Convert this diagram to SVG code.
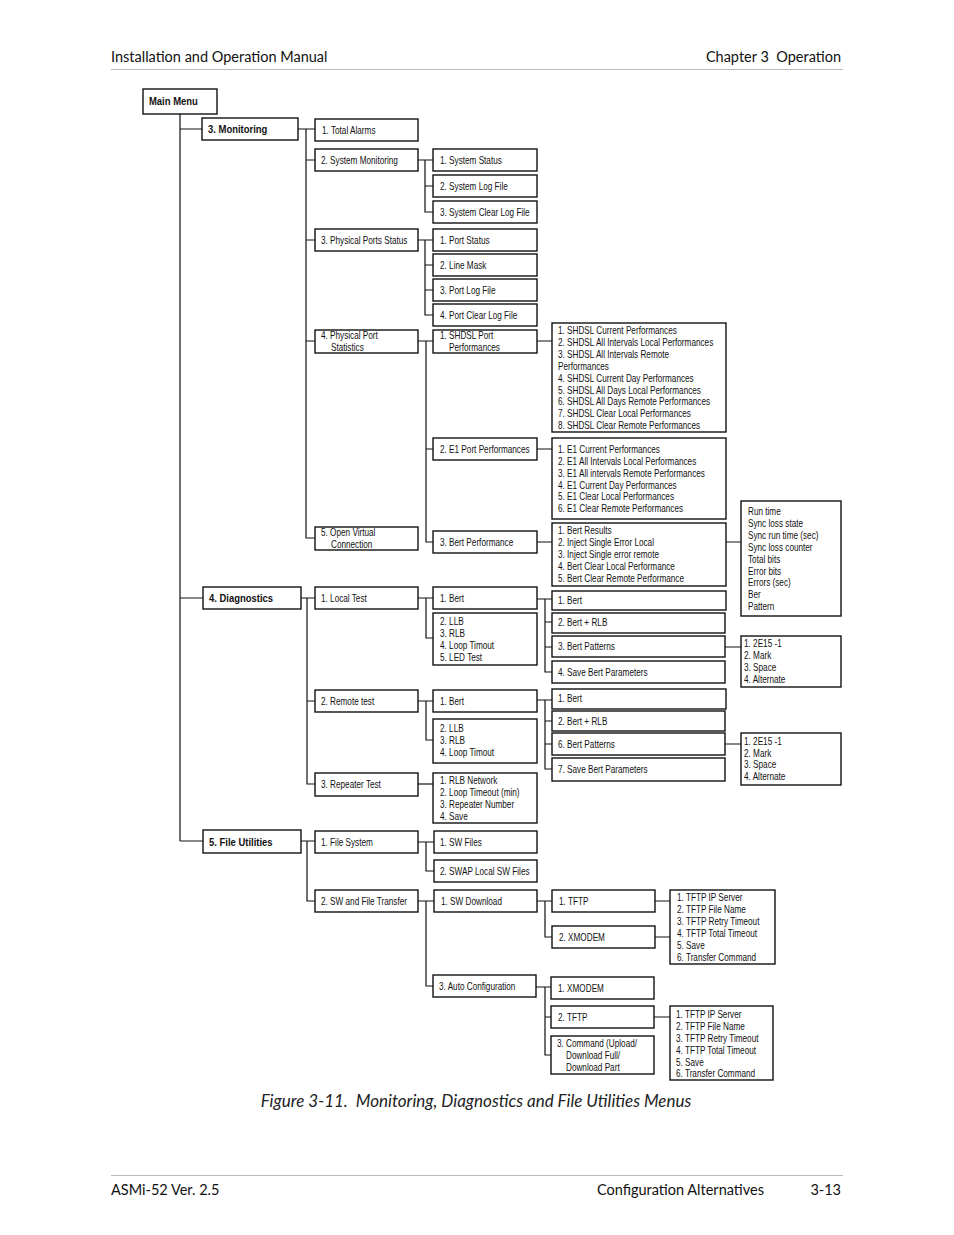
<svg xmlns="http://www.w3.org/2000/svg" width="954" height="1235" viewBox="0 0 954 1235">
<style>
.b{fill:#fff;stroke:#111;stroke-width:1.4}
.c{fill:none;stroke:#111;stroke-width:1.2}
.t{font-family:"Liberation Sans",Arial,sans-serif;font-size:10px;fill:#111;transform:scaleX(0.82);transform-box:fill-box;transform-origin:left center}
.tb{font-family:"Liberation Sans",Arial,sans-serif;font-size:11px;font-weight:bold;fill:#111;transform:scaleX(0.86);transform-box:fill-box;transform-origin:left center}
.h{font-family:Lato,"Noto Sans",sans-serif;font-size:14.5px;fill:#111}
.cap{font-family:Lato,"Noto Sans",sans-serif;font-size:17px;font-style:italic;fill:#222}
.r{stroke:#bbb;stroke-width:1}
</style>
<rect width="954" height="1235" fill="#fff"/>
<g id="header">
<text class="h" x="111" y="62">Installation and Operation Manual</text>
<text class="h" x="841" y="62" text-anchor="end">Chapter 3&#160; Operation</text>
<line class="r" x1="111" y1="69.5" x2="843" y2="69.5"/>
</g>
<g id="footer">
<line class="r" x1="111" y1="1175.5" x2="843" y2="1175.5"/>
<text class="h" x="111" y="1195">ASMi-52 Ver. 2.5</text>
<text class="h" x="764" y="1195" text-anchor="end">Configuration Alternatives</text>
<text class="h" x="841" y="1195" text-anchor="end">3-13</text>
</g>
<text class="cap" x="476" y="1107" text-anchor="middle">Figure 3-11.&#160; Monitoring, Diagnostics and File Utilities Menus</text>

<g id="connectors">
<path class="c" d="M180 114V841M180 129H202M180 598H203M180 841H203"/>
<path class="c" d="M298 129H315M306 129V538H315M306 160H315M306 240H315M306 341H315"/>
<path class="c" d="M418 160H433M425 160V212H433M425 186H433"/>
<path class="c" d="M418 240H433M425 240V315H433M425 265H433M425 290H433"/>
<path class="c" d="M418 341H433M426 341V542H433M426 449H433"/>
<path class="c" d="M537 341H552M537 449H552M537 542H552M726 542H741"/>
<path class="c" d="M301 598H315M307 598V784H315M307 701H315"/>
<path class="c" d="M418 598H433M426 598V638H433"/>
<path class="c" d="M537 599H552M545 599V672H552M545 622H552M545 647H552M725 647H741"/>
<path class="c" d="M418 701H433M426 701V740H433"/>
<path class="c" d="M537 700H552M545 700V769H552M545 721H552M545 744H552M725 744H741"/>
<path class="c" d="M418 784H433"/>
<path class="c" d="M301 841H315M307 841V901H315"/>
<path class="c" d="M418 842H434M426 842V871H434"/>
<path class="c" d="M418 901H434M426 901V986H433"/>
<path class="c" d="M537 901H552M545 901V937H552M655 901H670M655 937H670"/>
<path class="c" d="M536 987H551M545 987V1055H551M545 1017H551M654 1017H670"/>
</g>

<g id="main-menu"><rect class="b" x="143" y="89" width="74" height="25"/><text class="tb" x="149" y="105">Main Menu</text></g>
<g id="monitoring"><rect class="b" x="202" y="118" width="96" height="22"/><text class="tb" x="208" y="133">3. Monitoring</text></g>
<g id="diagnostics"><rect class="b" x="203" y="587" width="98" height="22"/><text class="tb" x="209" y="602">4. Diagnostics</text></g>
<g id="file-utilities"><rect class="b" x="203" y="830" width="98" height="23"/><text class="tb" x="209" y="846">5. File Utilities</text></g>

<g id="total-alarms"><rect class="b" x="315" y="119" width="103" height="22"/><text class="t" x="322" y="134">1. Total Alarms</text></g>
<g id="system-monitoring"><rect class="b" x="315" y="149" width="103" height="22"/><text class="t" x="321" y="164">2. System Monitoring</text></g>
<g id="physical-ports-status"><rect class="b" x="315" y="229" width="103" height="22"/><text class="t" x="321" y="244">3. Physical Ports Status</text></g>
<g id="physical-port-statistics"><rect class="b" x="315" y="330" width="103" height="23"/><text class="t" x="321" y="339">4. Physical Port</text><text class="t" x="331" y="351">Statistics</text></g>
<g id="open-virtual-connection"><rect class="b" x="315" y="527" width="103" height="23"/><text class="t" x="321" y="536">5. Open Virtual</text><text class="t" x="331" y="548">Connection</text></g>

<g id="system-status"><rect class="b" x="433" y="149" width="104" height="22"/><text class="t" x="440" y="164">1. System Status</text></g>
<g id="system-log-file"><rect class="b" x="433" y="175" width="104" height="22"/><text class="t" x="440" y="190">2. System Log File</text></g>
<g id="system-clear-log-file"><rect class="b" x="433" y="201" width="104" height="22"/><text class="t" x="440" y="216">3. System Clear Log File</text></g>

<g id="port-status"><rect class="b" x="433" y="229" width="104" height="22"/><text class="t" x="440" y="244">1. Port Status</text></g>
<g id="line-mask"><rect class="b" x="433" y="254" width="104" height="22"/><text class="t" x="440" y="269">2. Line Mask</text></g>
<g id="port-log-file"><rect class="b" x="433" y="279" width="104" height="22"/><text class="t" x="440" y="294">3. Port Log File</text></g>
<g id="port-clear-log-file"><rect class="b" x="433" y="304" width="104" height="22"/><text class="t" x="440" y="319">4. Port Clear Log File</text></g>

<g id="shdsl-port-performances"><rect class="b" x="433" y="330" width="104" height="23"/><text class="t" x="440" y="339">1. SHDSL Port</text><text class="t" x="449" y="351">Performances</text></g>
<g id="e1-port-performances"><rect class="b" x="433" y="438" width="104" height="22"/><text class="t" x="440" y="453">2. E1 Port Performances</text></g>
<g id="bert-performance"><rect class="b" x="433" y="531" width="104" height="22"/><text class="t" x="440" y="546">3. Bert Performance</text></g>

<g id="shdsl-list"><rect class="b" x="552" y="323" width="174" height="109"/>
<text class="t" x="558" y="334">1. SHDSL Current Performances</text>
<text class="t" x="558" y="346">2. SHDSL All Intervals Local Performances</text>
<text class="t" x="558" y="358">3. SHDSL All Intervals Remote</text>
<text class="t" x="558" y="370">Performances</text>
<text class="t" x="558" y="382">4. SHDSL Current Day Performances</text>
<text class="t" x="558" y="394">5. SHDSL All Days Local Performances</text>
<text class="t" x="558" y="405">6. SHDSL All Days Remote Performances</text>
<text class="t" x="558" y="417">7. SHDSL Clear Local Performances</text>
<text class="t" x="558" y="429">8. SHDSL Clear Remote Performances</text>
</g>
<g id="e1-list"><rect class="b" x="552" y="438" width="174" height="81"/>
<text class="t" x="558" y="453">1. E1 Current Performances</text>
<text class="t" x="558" y="465">2. E1 All Intervals Local Performances</text>
<text class="t" x="558" y="477">3. E1 All intervals Remote Performances</text>
<text class="t" x="558" y="489">4. E1 Current Day Performances</text>
<text class="t" x="558" y="500">5. E1 Clear Local Performances</text>
<text class="t" x="558" y="512">6. E1 Clear Remote Performances</text>
</g>
<g id="bert-list"><rect class="b" x="552" y="523" width="174" height="63"/>
<text class="t" x="558" y="534">1. Bert Results</text>
<text class="t" x="558" y="546">2. Inject Single Error Local</text>
<text class="t" x="558" y="558">3. Inject Single error remote</text>
<text class="t" x="558" y="570">4. Bert Clear Local Performance</text>
<text class="t" x="558" y="582">5. Bert Clear Remote Performance</text>
</g>
<g id="bert-results"><rect class="b" x="741" y="501" width="100" height="115"/>
<text class="t" x="748" y="515">Run time</text>
<text class="t" x="748" y="527">Sync loss state</text>
<text class="t" x="748" y="539">Sync run time (sec)</text>
<text class="t" x="748" y="551">Sync loss counter</text>
<text class="t" x="748" y="563">Total bits</text>
<text class="t" x="748" y="575">Error bits</text>
<text class="t" x="748" y="586">Errors (sec)</text>
<text class="t" x="748" y="598">Ber</text>
<text class="t" x="748" y="610">Pattern</text>
</g>

<g id="local-test"><rect class="b" x="315" y="587" width="103" height="22"/><text class="t" x="321" y="602">1. Local Test</text></g>
<g id="remote-test"><rect class="b" x="315" y="690" width="103" height="22"/><text class="t" x="321" y="705">2. Remote test</text></g>
<g id="repeater-test"><rect class="b" x="315" y="773" width="103" height="23"/><text class="t" x="321" y="788">3. Repeater Test</text></g>

<g id="local-bert"><rect class="b" x="433" y="587" width="104" height="22"/><text class="t" x="440" y="602">1. Bert</text></g>
<g id="local-loops"><rect class="b" x="433" y="613" width="104" height="52"/>
<text class="t" x="440" y="625">2. LLB</text>
<text class="t" x="440" y="637">3. RLB</text>
<text class="t" x="440" y="649">4. Loop Timout</text>
<text class="t" x="440" y="661">5. LED Test</text>
</g>
<g id="local-bert-1"><rect class="b" x="552" y="591" width="174" height="19"/><text class="t" x="558" y="604">1. Bert</text></g>
<g id="local-bert-rlb"><rect class="b" x="552" y="613" width="173" height="20"/><text class="t" x="558" y="626">2. Bert + RLB</text></g>
<g id="local-bert-patterns"><rect class="b" x="552" y="636" width="173" height="21"/><text class="t" x="558" y="650">3. Bert Patterns</text></g>
<g id="local-save-bert"><rect class="b" x="552" y="661" width="173" height="22"/><text class="t" x="558" y="676">4. Save Bert Parameters</text></g>
<g id="local-patterns-list"><rect class="b" x="741" y="636" width="100" height="51"/>
<text class="t" x="744" y="647">1. 2E15 -1</text>
<text class="t" x="744" y="659">2. Mark</text>
<text class="t" x="744" y="671">3. Space</text>
<text class="t" x="744" y="683">4. Alternate</text>
</g>

<g id="remote-bert"><rect class="b" x="433" y="690" width="104" height="22"/><text class="t" x="440" y="705">1. Bert</text></g>
<g id="remote-loops"><rect class="b" x="433" y="719" width="104" height="44"/>
<text class="t" x="440" y="732">2. LLB</text>
<text class="t" x="440" y="744">3. RLB</text>
<text class="t" x="440" y="756">4. Loop Timout</text>
</g>
<g id="remote-bert-1"><rect class="b" x="552" y="689" width="174" height="20"/><text class="t" x="558" y="702">1. Bert</text></g>
<g id="remote-bert-rlb"><rect class="b" x="552" y="711" width="173" height="20"/><text class="t" x="558" y="725">2. Bert + RLB</text></g>
<g id="remote-bert-patterns"><rect class="b" x="552" y="733" width="173" height="22"/><text class="t" x="558" y="748">6. Bert Patterns</text></g>
<g id="remote-save-bert"><rect class="b" x="552" y="758" width="173" height="23"/><text class="t" x="558" y="773">7. Save Bert Parameters</text></g>
<g id="remote-patterns-list"><rect class="b" x="741" y="733" width="100" height="52"/>
<text class="t" x="744" y="745">1. 2E15 -1</text>
<text class="t" x="744" y="757">2. Mark</text>
<text class="t" x="744" y="768">3. Space</text>
<text class="t" x="744" y="780">4. Alternate</text>
</g>

<g id="repeater-list"><rect class="b" x="433" y="773" width="104" height="50"/>
<text class="t" x="440" y="784">1. RLB Network</text>
<text class="t" x="440" y="796">2. Loop Timeout (min)</text>
<text class="t" x="440" y="808">3. Repeater Number</text>
<text class="t" x="440" y="820">4. Save</text>
</g>

<g id="file-system"><rect class="b" x="315" y="831" width="103" height="22"/><text class="t" x="321" y="846">1. File System</text></g>
<g id="sw-file-transfer"><rect class="b" x="315" y="890" width="103" height="22"/><text class="t" x="321" y="905">2. SW and File Transfer</text></g>
<g id="sw-files"><rect class="b" x="434" y="831" width="103" height="22"/><text class="t" x="440" y="846">1. SW Files</text></g>
<g id="swap-local-sw-files"><rect class="b" x="434" y="860" width="103" height="22"/><text class="t" x="440" y="875">2. SWAP Local SW Files</text></g>
<g id="sw-download"><rect class="b" x="434" y="890" width="103" height="22"/><text class="t" x="441" y="905">1. SW Download</text></g>
<g id="auto-configuration"><rect class="b" x="433" y="975" width="103" height="22"/><text class="t" x="439" y="990">3. Auto Configuration</text></g>
<g id="dl-tftp"><rect class="b" x="552" y="890" width="103" height="22"/><text class="t" x="559" y="905">1. TFTP</text></g>
<g id="dl-xmodem"><rect class="b" x="552" y="926" width="103" height="22"/><text class="t" x="559" y="941">2. XMODEM</text></g>
<g id="dl-tftp-list"><rect class="b" x="670" y="890" width="105" height="74"/>
<text class="t" x="677" y="901">1. TFTP IP Server</text>
<text class="t" x="677" y="913">2. TFTP File Name</text>
<text class="t" x="677" y="925">3. TFTP Retry Timeout</text>
<text class="t" x="677" y="937">4. TFTP Total Timeout</text>
<text class="t" x="677" y="949">5. Save</text>
<text class="t" x="677" y="961">6. Transfer Command</text>
</g>
<g id="ac-xmodem"><rect class="b" x="551" y="977" width="103" height="22"/><text class="t" x="558" y="992">1. XMODEM</text></g>
<g id="ac-tftp"><rect class="b" x="551" y="1006" width="103" height="22"/><text class="t" x="558" y="1021">2. TFTP</text></g>
<g id="ac-command"><rect class="b" x="551" y="1036" width="103" height="38"/>
<text class="t" x="557" y="1047">3. Command (Upload/</text>
<text class="t" x="566" y="1059">Download Full/</text>
<text class="t" x="566" y="1071">Download Part</text>
</g>
<g id="ac-tftp-list"><rect class="b" x="670" y="1006" width="103" height="74"/>
<text class="t" x="676" y="1018">1. TFTP IP Server</text>
<text class="t" x="676" y="1030">2. TFTP File Name</text>
<text class="t" x="676" y="1042">3. TFTP Retry Timeout</text>
<text class="t" x="676" y="1054">4. TFTP Total Timeout</text>
<text class="t" x="676" y="1066">5. Save</text>
<text class="t" x="676" y="1077">6. Transfer Command</text>
</g>
</svg>
